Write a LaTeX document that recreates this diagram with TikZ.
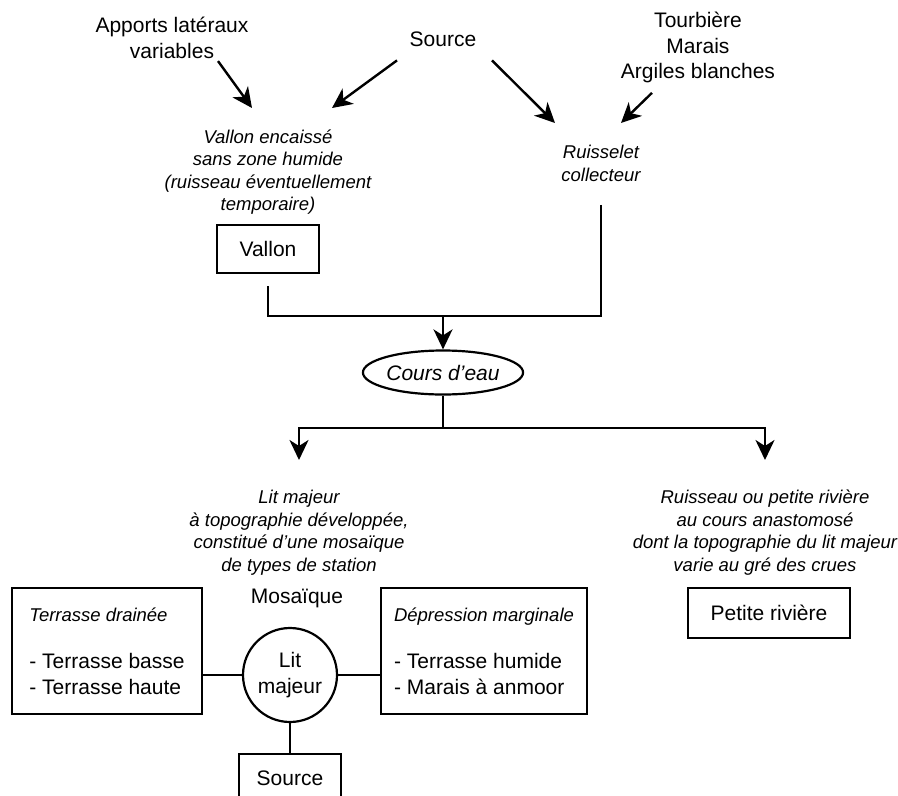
\documentclass[tikz,border=0pt]{standalone}
\usepackage{fontspec}
\setmainfont{Liberation Sans}
\usepackage{tikz}
\usetikzlibrary{positioning,shapes.geometric,arrows.meta}
\newcommand\plaintxt{\fontsize{21}{25.5}\selectfont}
\newcommand\notetxt{\fontsize{18.5}{22.5}\selectfont\itshape}
\tikzset{
  texte/.style={inner sep=0pt,align=center,font=\plaintxt},
  descr/.style={inner sep=0pt,align=center,font=\notetxt},
  cadre/.style={draw,line width=2.2pt,inner sep=0pt,align=center,font=\plaintxt},
  arr/.style={-{Stealth[length=20pt,width=19pt,inset=6pt]},line width=2.4pt},
  link/.style={line width=2.2pt},
}

\begin{document}
\begin{tikzpicture}[x=1pt,y=-1pt]
\useasboundingbox (0,0) rectangle (898,796);
\node[texte,anchor=north] (apports) at (172,17) {Apports latéraux\\variables};
\node[texte,anchor=base] (source) at (443,46) {Source};
\node[texte,anchor=north] (tourbiere) at (698,12) {Tourbière\\Marais\\Argiles blanches};
\node[descr,anchor=north] (vallontxt) at (268,129.5) {Vallon encaissé\\sans zone humide\\(ruisseau éventuellement\\temporaire)};
\node[descr,anchor=north] (ruisselet) at (601,145) {Ruisselet\\collecteur};
\node[cadre,minimum width=102pt,minimum height=48pt] (vallon) at (268,249) {Vallon};
\node[cadre,ellipse,minimum width=157pt,minimum height=44pt,font=\plaintxt\itshape] (cours) at (443,372.5) {Cours d’eau};
\node[descr,anchor=north] (litmajtxt) at (299,490) {Lit majeur\\à topographie développée,\\constitué d’une mosaïque\\de types de station};
\node[descr,anchor=north] (rivtxt) at (765,490) {Ruisseau ou petite rivière\\au cours anastomosé\\dont la topographie du lit majeur\\varie au gré des crues};
\node[cadre,minimum width=162pt,minimum height=50pt] (petiteriv) at (769,613) {Petite rivière};
% mosaique du lit majeur
\node[cadre,circle,minimum size=94pt] (lit) at (290,675) {Lit\\majeur};
\node[texte,above=19pt of lit,xshift=7pt] (mosaique) {Mosaïque};
\node[cadre,align=left,minimum width=190pt,minimum height=126pt] (drainee) at (107,651) {{\notetxt Terrasse drainée}\\[22pt]- Terrasse basse\\- Terrasse haute};
\node[cadre,align=left,minimum width=206pt,minimum height=126pt] (marginale) at (484,651) {{\notetxt Dépression marginale}\\[22pt]- Terrasse humide\\- Marais à anmoor};
\node[cadre,below=30pt of lit,minimum width=102pt,minimum height=49pt] (sourcebas) {Source};
\coordinate (jonction) at (443,316);
\coordinate (partage) at (443,428);
\draw[arr] ([xshift=46pt,yshift=-2.5pt]apports.south) -- ([xshift=-16pt,yshift=21.5pt]vallontxt.north);
\draw[arr] ([xshift=-46pt,yshift=-14pt]source.south) -- ([xshift=64pt,yshift=21.5pt]vallontxt.north);
\draw[arr] ([xshift=49pt,yshift=-14pt]source.south) -- ([xshift=-46pt,yshift=22pt]ruisselet.north);
\draw[arr] ([xshift=-46pt,yshift=-9.6pt]tourbiere.south) -- ([xshift=20pt,yshift=22pt]ruisselet.north);
\draw[link] ([yshift=-23.5pt]ruisselet.south) |- (jonction) -| ([yshift=-12pt]vallon.south);
\draw[arr] (jonction) -- (cours);
\draw[link] (cours) -- (partage);
\draw[arr] (partage) -| ([yshift=30pt]litmajtxt.north);
\draw[arr] (partage) -| ([yshift=30pt]rivtxt.north);
\draw[link] (drainee.east |- lit) -- (lit);
\draw[link] (lit) -- (marginale.west |- lit);
\draw[link] (lit) -- (sourcebas);
\end{tikzpicture}
\end{document}
